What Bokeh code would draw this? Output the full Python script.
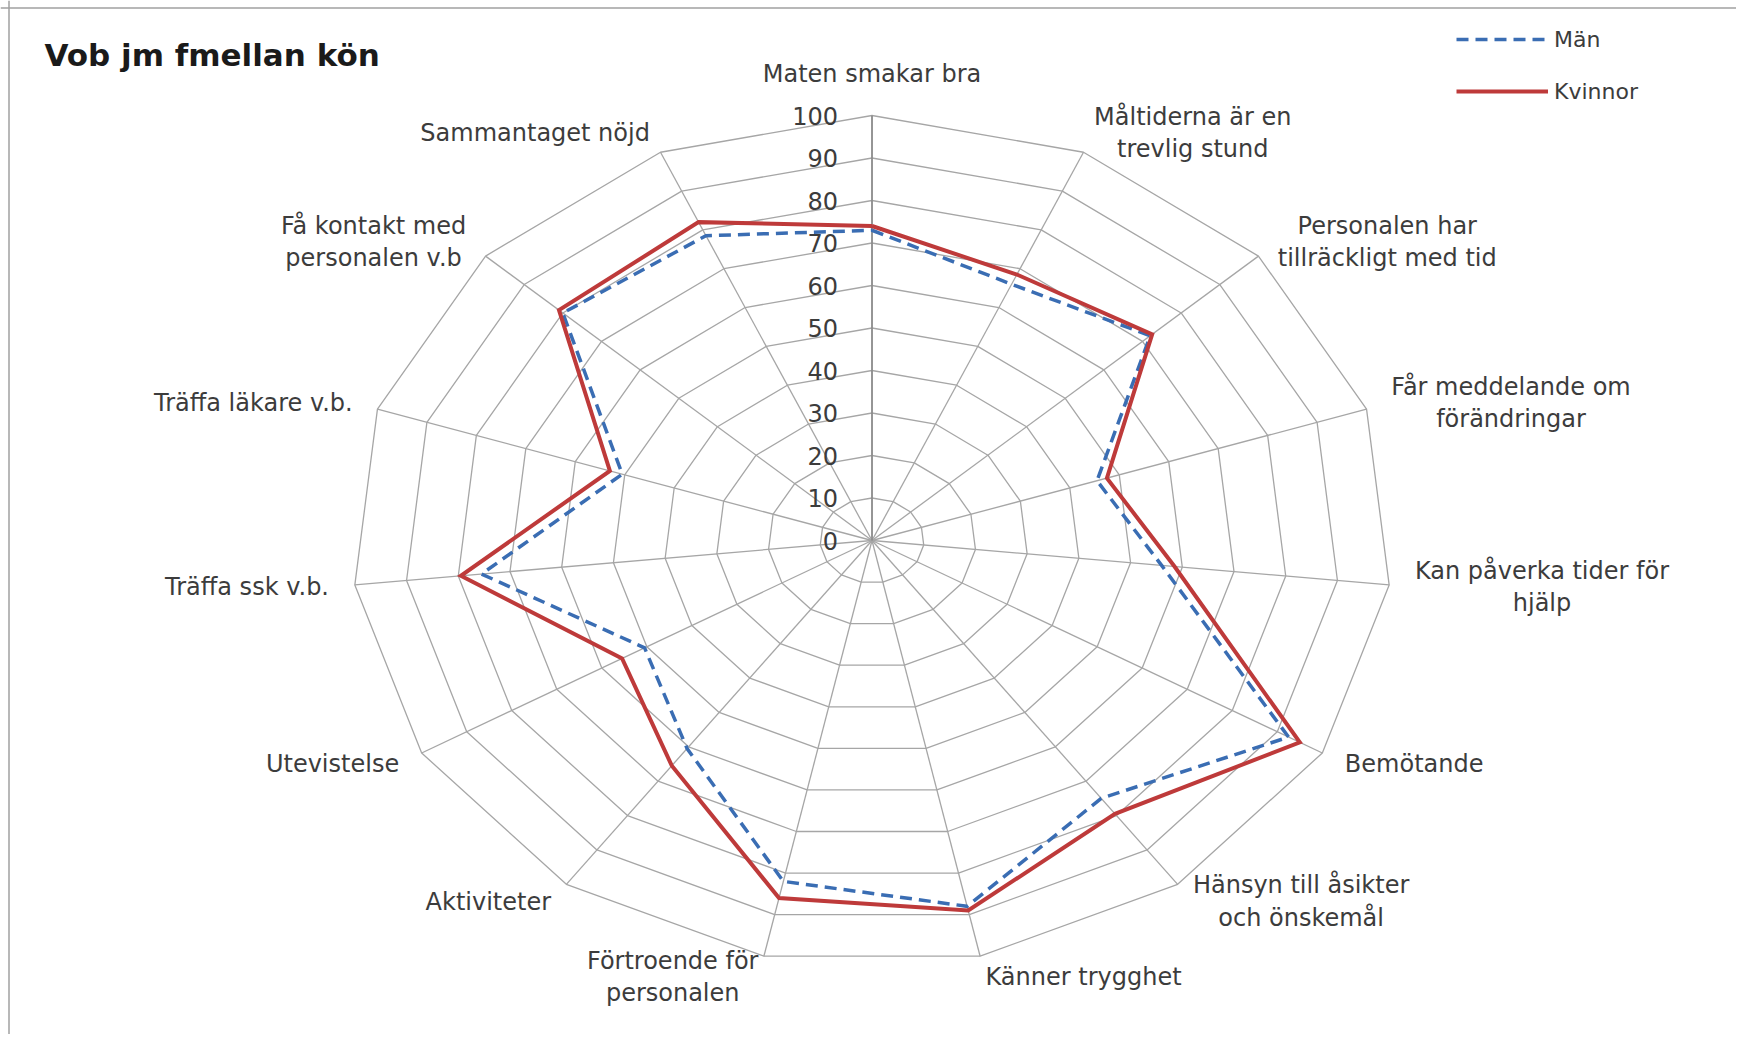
import numpy as np
from bokeh.plotting import figure
from bokeh.models import Range1d, Legend, LegendItem, Span
from bokeh.core.properties import value
from bokeh.embed import file_html
from bokeh.resources import INLINE

# ---------------- data ----------------
title_text = "Vob jm fmellan kön"
categories = [
    "Maten smakar bra",
    "Måltiderna är en\ntrevlig stund",
    "Personalen har\ntillräckligt med tid",
    "Får meddelande om\nförändringar",
    "Kan påverka tider för\nhjälp",
    "Bemötande",
    "Hänsyn till åsikter\noch önskemål",
    "Känner trygghet",
    "Förtroende för\npersonalen",
    "Aktiviteter",
    "Utevistelse",
    "Träffa ssk v.b.",
    "Träffa läkare v.b.",
    "Få kontakt med\npersonalen v.b",
    "Sammantaget nöjd",
]
man = [73, 66, 72, 45.5, 56, 92.5, 75, 88, 82, 60.5, 50.5, 75.5, 50.5, 80, 78.5]
kvinnor = [74, 68.5, 72.5, 47.5, 58.5, 95, 79.5, 89, 86, 65.5, 55.5, 79.5, 53, 81, 82]
ticks = [0, 10, 20, 30, 40, 50, 60, 70, 80, 90, 100]
series_names = ["Män", "Kvinnor"]

# ---------------- layout ----------------
W, H = 1736, 1034
CX, CY = 871.5, 540.0      # centre of the radar in figure pixels
KX, KY = 5.2, 4.25         # pixels per value unit (chart is stretched horizontally)
LABEL_R = 105
FONT = "DejaVu Sans"
GRID = "#a6a6a6"
BLUE = "#3a6db3"
RED = "#be3a3a"
TXT = "#3c3c3c"

p = figure(width=W, height=H,
           x_range=Range1d(-CX / KX, (W - CX) / KX),
           y_range=Range1d(-(H - CY) / KY, CY / KY),
           toolbar_location=None, output_backend="svg",
           x_axis_location=None, y_axis_location=None,
           min_border=0)
p.grid.visible = False
p.outline_line_color = None
p.background_fill_color = "white"
p.border_fill_color = "white"

# chart-area border (top and left edges visible in the reference)
p.add_layout(Span(location=(8.5 - CX) / KX, dimension="height",
                  line_color="#a0a0a0", line_width=1.5))
p.add_layout(Span(location=(CY - 7.5) / KY, dimension="width",
                  line_color="#a0a0a0", line_width=1.5))

n = len(categories)
theta = np.arange(n) * 2 * np.pi / n
sx, cy = np.sin(theta), np.cos(theta)

def closed(vals):
    v = np.asarray(vals, dtype=float)
    xs = v * sx
    ys = v * cy
    return list(xs) + [xs[0]], list(ys) + [ys[0]]

# rings
ring_xs, ring_ys = [], []
for t in ticks[1:]:
    xs, ys = closed([t] * n)
    ring_xs.append(xs)
    ring_ys.append(ys)
p.multi_line(ring_xs, ring_ys, line_color=GRID, line_width=1.3)

# spokes
p.multi_line([[0, ticks[-1] * s] for s in sx], [[0, ticks[-1] * c] for c in cy],
             line_color=GRID, line_width=1.3)
p.line([0, 0], [0, ticks[-1]], line_color="#8a8a8a", line_width=1.6)

# tick labels
p.text(x=[0] * len(ticks), y=ticks, text=[str(t) for t in ticks],
       text_align="right", text_baseline="middle", x_offset=-34,
       text_font=value(FONT), text_font_size="24px", text_color=TXT)

# series
mx, my = closed(man)
kx, ky = closed(kvinnor)
r_man = p.line(mx, my, line_color=BLUE, line_width=3.5, line_dash="12 7",
               line_join="miter")
r_kv = p.line(kx, ky, line_color=RED, line_width=4, line_join="miter")

# category labels
for i, lab in enumerate(categories):
    x = LABEL_R * sx[i]
    y = LABEL_R * cy[i]
    if sx[i] > 0.05:
        anchor, yoff = "center_left", 0
    elif sx[i] < -0.05:
        anchor, yoff = "center_right", 0
    elif cy[i] > 0:
        anchor, yoff = "bottom_center", -6
    else:
        anchor, yoff = "top_center", 6
    p.text(x=[x], y=[y], text=[lab], anchor=value(anchor),
           text_align="center", text_baseline="middle", y_offset=yoff,
           text_font=value(FONT), text_font_size="24px", text_color=TXT,
           text_line_height=1.15)

# title
p.text(x=[(44 - CX) / KX], y=[(CY - 54) / KY], text=[title_text],
       text_align="left", text_baseline="middle",
       text_font=value(FONT), text_font_size="31px", text_font_style="bold",
       text_color="#1a1a1a")

# legend
legend = Legend(items=[LegendItem(label=series_names[0], renderers=[r_man]),
                       LegendItem(label=series_names[1], renderers=[r_kv])],
                location=(1456, H - 106), orientation="vertical",
                glyph_width=92, glyph_height=30, label_height=30,
                label_standoff=6, spacing=22, padding=0, margin=0,
                border_line_color=None, background_fill_alpha=0,
                label_text_font=FONT, label_text_font_size="22px",
                label_text_color=TXT)
p.add_layout(legend)

open("out.html", "w").write(file_html(p, INLINE))
